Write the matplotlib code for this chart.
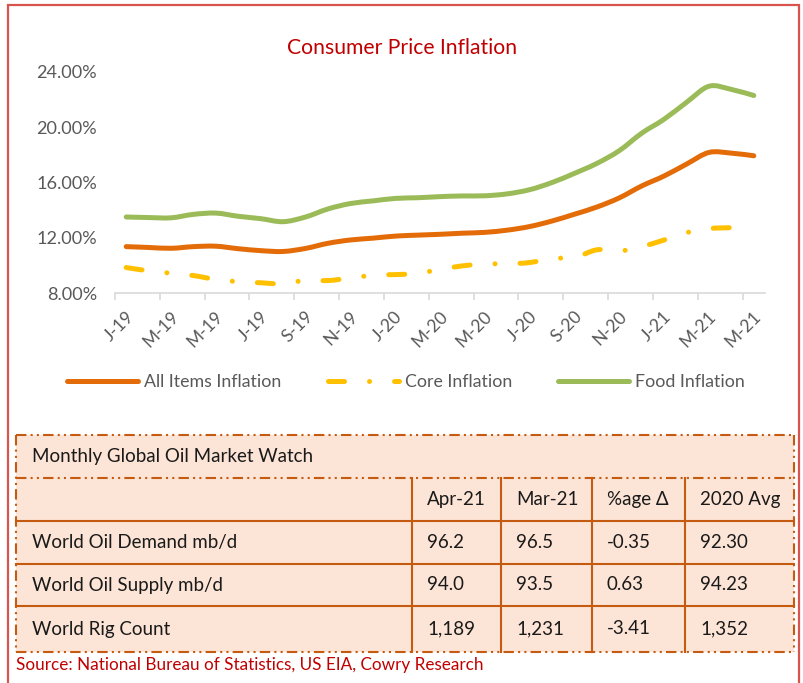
import matplotlib
matplotlib.use("Agg")
import matplotlib.pyplot as plt
from matplotlib.path import Path
from matplotlib.patches import PathPatch, Rectangle
from matplotlib.lines import Line2D
import numpy as np

plt.rcParams['font.family'] = ['Lato', 'DejaVu Sans']

# monthly labels, Jan 2019 .. May 2021
months = ["J-19", "F-19", "M-19", "A-19", "M-19", "J-19", "J-19", "A-19", "S-19", "O-19", "N-19", "D-19",
          "J-20", "F-20", "M-20", "A-20", "M-20", "J-20", "J-20", "A-20", "S-20", "O-20", "N-20", "D-20",
          "J-21", "F-21", "M-21", "A-21", "M-21"]

all_items = [11.37, 11.31, 11.25, 11.37, 11.40, 11.22, 11.08, 11.02, 11.24, 11.61, 11.85, 11.98,
             12.13, 12.20, 12.26, 12.34, 12.40, 12.56, 12.82, 13.22, 13.71, 14.23, 14.89, 15.75,
             16.47, 17.33, 18.17, 18.12, 17.93]
core = [9.86, 9.62, 9.45, 9.28, 9.00, 8.84, 8.76, 8.68, 8.94, 8.92, 9.10, 9.30,
        9.35, 9.43, 9.73, 9.98, 10.12, 10.13, 10.22, 10.52, 10.58, 11.14, 11.05, 11.37,
        11.85, 12.38, 12.67, 12.74]
food = [13.51, 13.47, 13.45, 13.70, 13.79, 13.56, 13.39, 13.17, 13.51, 14.09, 14.48, 14.67,
        14.85, 14.90, 14.98, 15.03, 15.04, 15.18, 15.48, 16.00, 16.66, 17.38, 18.30, 19.56,
        20.57, 21.79, 22.95, 22.72, 22.28]

# oil market table
tbl_title = "Monthly Global Oil Market Watch"
col_heads = ["Apr-21", "Mar-21", "%age Δ", "2020 Avg"]
row_names = ["World Oil Demand mb/d", "World Oil Supply mb/d", "World Rig Count"]
apr21 = ["96.2", "94.0", "1,189"]
mar21 = ["96.5", "93.5", "1,231"]
pct_chg = ["-0.35", "0.63", "-3.41"]
avg2020 = ["92.30", "94.23", "1,352"]
source = "Source: National Bureau of Statistics, US EIA, Cowry Research"

ORANGE = '#E36C09'
YELLOW = '#FFC000'
GREEN = '#9BBB59'
GREY = '#595959'
RED = '#C00000'
TBL = '#C55A11'


def smooth_path(ys):
    # excel-style smoothed line through the points (bezier segments)
    pts = np.column_stack([np.arange(len(ys)), ys]).astype(float)
    n = len(pts)
    verts = [pts[0]]
    codes = [Path.MOVETO]
    for i in range(n - 1):
        p0 = pts[max(i - 1, 0)]
        p1 = pts[i]
        p2 = pts[i + 1]
        p3 = pts[min(i + 2, n - 1)]
        verts += [p1 + (p2 - p0) / 6, p2 - (p3 - p1) / 6, p2]
        codes += [Path.CURVE4] * 3
    return Path(verts, codes)


fig = plt.figure(figsize=(8.04, 6.83), dpi=100)

# overlay in pixel coordinates for frame and table
ov = fig.add_axes([0, 0, 1, 1])
ov.set_xlim(0, 804)
ov.set_ylim(683, 0)
ov.axis('off')

ov.plot([8, 8, 799, 799], [683, 5, 5, 683], color='#D9534F', lw=1.6, solid_joinstyle='miter')

ax = fig.add_axes([115 / 804, 1 - 293.3 / 683, 650 / 804, 221.6 / 683])
ax.patch.set_alpha(0)
lw = 3.6
ax.add_patch(PathPatch(smooth_path(food), fill=False, edgecolor=GREEN, lw=lw,
                       capstyle='round', joinstyle='round'))
ax.add_patch(PathPatch(smooth_path(all_items), fill=False, edgecolor=ORANGE, lw=lw,
                       capstyle='round', joinstyle='round'))
ax.add_patch(PathPatch(smooth_path(core), fill=False, edgecolor=YELLOW, lw=lw,
                       capstyle='round', joinstyle='round', linestyle=(0, (3.2, 5, 0.01, 5))))

ax.set_xlim(-0.5, len(months) - 0.5)
ax.set_ylim(8, 24)
ax.set_yticks([8, 12, 16, 20, 24])
ax.set_yticklabels(["8.00%", "12.00%", "16.00%", "20.00%", "24.00%"])
ax.tick_params(axis='y', length=0, pad=13, labelsize=13.1, labelcolor=GREY)
for s in ['top', 'right', 'left']:
    ax.spines[s].set_visible(False)
ax.spines['bottom'].set_color('#D9D9D9')
ax.spines['bottom'].set_linewidth(1.2)

ax.set_xticks(np.arange(0, len(months), 2) - 0.5)
ax.set_xticklabels([])
ax.tick_params(axis='x', which='major', length=5, width=1.2, color='#D9D9D9')
ax.set_xticks(np.arange(0, len(months), 2) + 0.22, months[::2], minor=True)
ax.tick_params(axis='x', which='minor', length=0, pad=15, labelsize=12.6, labelcolor=GREY)
for t in ax.get_xticklabels(minor=True):
    t.set_rotation(45)
    t.set_ha('right')
    t.set_va('center')
    t.set_rotation_mode('anchor')

fig.text(0.5, 1 - 48 / 683, "Consumer Price Inflation", ha='center', va='center',
         color=RED, fontsize=15.2)

handles = [Line2D([], [], color=ORANGE, lw=lw, solid_capstyle='round'),
           Line2D([], [], color=YELLOW, lw=lw, dash_capstyle='round', linestyle=(0, (3.2, 5, 0.01, 5))),
           Line2D([], [], color=GREEN, lw=lw, solid_capstyle='round')]
fig.legend(handles, ["All Items Inflation", "Core Inflation", "Food Inflation"],
           loc='center', bbox_to_anchor=(406 / 804, 1 - 382 / 683), ncol=3, frameon=False,
           fontsize=12.8, labelcolor=GREY, handlelength=4.0, handletextpad=0.33, columnspacing=2.6)

# table
L, R = 16, 794
top, y_head, y_r1, y_r2, y_r3, bot = 435, 478, 521, 564, 606, 652
cols = [412, 501, 592, 685]
dd = (0, (5, 2, 1, 2, 1, 2))
ov.add_patch(Rectangle((L, top), R - L, bot - top, facecolor='#FCE4D6', edgecolor='none'))
for y in [top, y_head, bot]:
    ov.plot([L, R], [y, y], color=TBL, lw=1.5, linestyle=dd)
for x in [L, R]:
    ov.plot([x, x], [top, bot], color=TBL, lw=1.5, linestyle=dd)
for y in [y_r1, y_r2, y_r3]:
    ov.plot([L, R], [y, y], color=TBL, lw=1.5)
for x in cols:
    ov.plot([x, x], [y_head, bot], color=TBL, lw=1.5)

fs = 13.5
ov.text(32, (top + y_head) / 2, tbl_title, ha='left', va='center', fontsize=fs, color='#1A1A1A')
for x, h in zip(cols, col_heads):
    ov.text(x + 15, (y_head + y_r1) / 2, h, ha='left', va='center', fontsize=fs, color='#1A1A1A')
row_y = [(y_r1 + y_r2) / 2, (y_r2 + y_r3) / 2, (y_r3 + bot) / 2]
for j, y in enumerate(row_y):
    ov.text(32, y, row_names[j], ha='left', va='center', fontsize=fs, color='#1A1A1A')
    for x, vals in zip(cols, [apr21, mar21, pct_chg, avg2020]):
        ov.text(x + 15, y, vals[j], ha='left', va='center', fontsize=fs, color='#1A1A1A')

ov.text(16, 665, source, ha='left', va='center', fontsize=12.35, color=RED)

fig.savefig("out.png", dpi=100)
